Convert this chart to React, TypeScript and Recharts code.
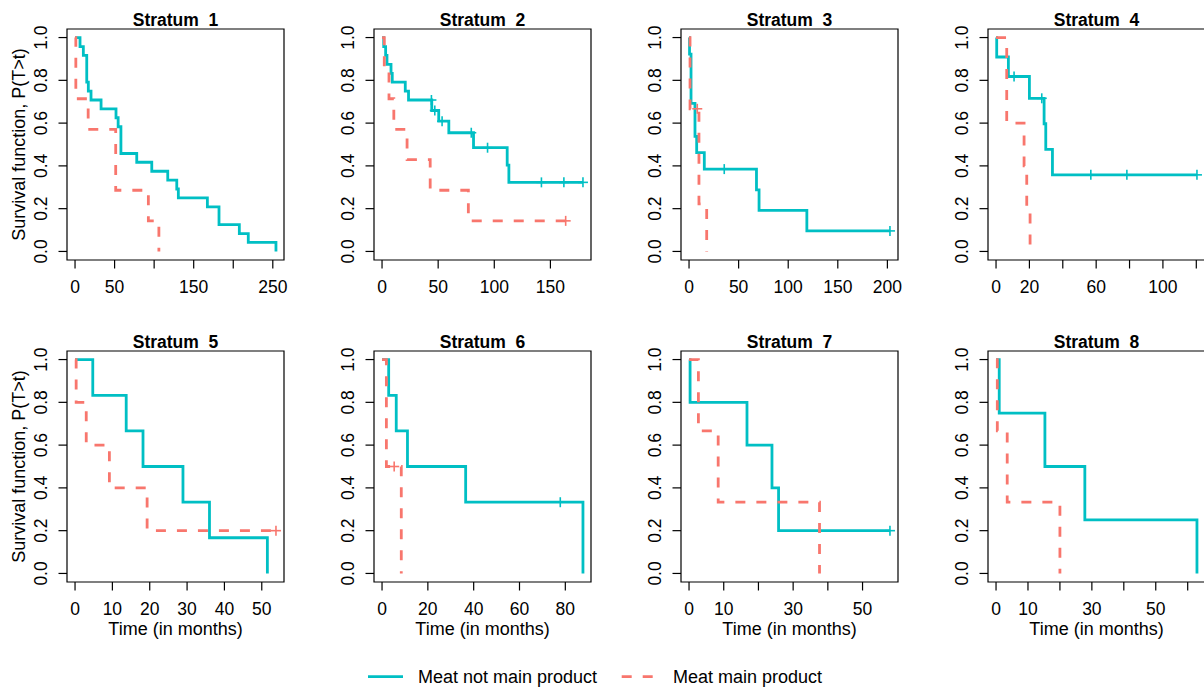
import React from 'react';
import { LineChart, Line, XAxis, YAxis, ReferenceArea } from 'recharts';

const TEAL = '#00BFC4';
const SALMON = '#F8766D';
const FONT = '"Liberation Sans", Arial, Helvetica, sans-serif';

// ---------- data ----------
const strataTitles = ['Stratum  1', 'Stratum  2', 'Stratum  3', 'Stratum  4', 'Stratum  5', 'Stratum  6', 'Stratum  7', 'Stratum  8'];
const seriesNames = ['Meat not main product', 'Meat main product'];
const yTicks = [0, 0.2, 0.4, 0.6, 0.8, 1.0];
const yTickLabels = ['0.0', '0.2', '0.4', '0.6', '0.8', '1.0'];
const xAxisTitle = 'Time (in months)';
const yAxisTitle = 'Survival function, P(T>t)';

// Stratum 1
const s1NotMainT = [0, 6.3, 10.5, 14.8, 16.8, 20.2, 32.9, 51.8, 54.5, 58, 78, 97, 117.2, 128.6, 130.6, 167.3, 182, 207.7, 219, 254];
const s1NotMainS = [1, 0.958, 0.917, 0.792, 0.75, 0.708, 0.667, 0.625, 0.583, 0.458, 0.417, 0.375, 0.333, 0.292, 0.25, 0.208, 0.125, 0.083, 0.042, 0];
const s1NotMainC: number[] = [];
const s1MainT = [0, 1, 16.6, 51.4, 92.7, 106];
const s1MainS = [1, 0.714, 0.571, 0.286, 0.143, 0];
const s1MainC: number[] = [];
const s1Ticks = [0, 50, 100, 150, 200, 250];
const s1Labels = ['0', '50', '150', '250'];

// Stratum 2
const s2NotMainT = [0, 1.5, 3.2, 4.4, 8, 9.1, 20.7, 23.6, 44.3, 50.5, 59.5, 81.5, 111.5, 113];
const s2NotMainS = [1, 0.958, 0.917, 0.875, 0.833, 0.792, 0.75, 0.708, 0.659, 0.609, 0.555, 0.485, 0.404, 0.323];
const s2NotMainC = [44, 47, 53.5, 79.5, 94, 142, 162, 179];
const s2MainT = [0, 2, 6.2, 10.5, 22.3, 42.9, 76.9];
const s2MainS = [1, 0.857, 0.714, 0.571, 0.429, 0.286, 0.143];
const s2MainC = [163.6];
const s2Ticks = [0, 50, 100, 150];
const s2Labels = ['0', '50', '100', '150'];

// Stratum 3
const s3NotMainT = [0, 0.5, 2, 6, 7.7, 15.4, 68, 70.6, 118.8];
const s3NotMainS = [1, 0.923, 0.692, 0.538, 0.462, 0.385, 0.288, 0.192, 0.096];
const s3NotMainC = [35.5, 202.6];
const s3MainT = [0, 1, 10, 17.8];
const s3MainS = [1, 0.667, 0.222, 0];
const s3MainC = [8.3];
const s3Ticks = [0, 50, 100, 150, 200];
const s3Labels = ['0', '50', '100', '150', '200'];

// Stratum 4
const s4NotMainT = [0, 0.4, 7.4, 20, 28.8, 29.8, 33.8];
const s4NotMainS = [1, 0.909, 0.818, 0.716, 0.597, 0.477, 0.358];
const s4NotMainC = [10.8, 27.4, 56.8, 78.4, 120.4];
const s4MainT = [0, 6.4, 16.8, 18.4, 20.4];
const s4MainS = [1, 0.6, 0.4, 0.2, 0];
const s4MainC: number[] = [];
const s4Ticks = [0, 20, 40, 60, 80, 100, 120];
const s4Labels = ['0', '20', '60', '100'];

// Stratum 5
const s5NotMainT = [0, 4.75, 13.7, 18.2, 28.9, 36, 51.5];
const s5NotMainS = [1, 0.833, 0.667, 0.5, 0.333, 0.167, 0];
const s5NotMainC: number[] = [];
const s5MainT = [0, 0.3, 3, 9.2, 19.3];
const s5MainS = [1, 0.8, 0.6, 0.4, 0.2];
const s5MainC = [53.8];
const s5Ticks = [0, 10, 20, 30, 40, 50];
const s5Labels = ['0', '10', '20', '30', '40', '50'];

// Stratum 6
const s6NotMainT = [0, 2.9, 6.2, 11.1, 36.5, 87.7];
const s6NotMainS = [1, 0.833, 0.667, 0.5, 0.333, 0];
const s6NotMainC = [77.8];
const s6MainT = [0, 1.9, 8.4];
const s6MainS = [1, 0.5, 0];
const s6MainC = [5.3];
const s6Ticks = [0, 20, 40, 60, 80];
const s6Labels = ['0', '20', '40', '60', '80'];

// Stratum 7
const s7NotMainT = [0, 0.3, 16.7, 23.9, 25.8];
const s7NotMainS = [1, 0.8, 0.6, 0.4, 0.2];
const s7NotMainC = [57.9];
const s7MainT = [0, 2.7, 8.4, 37.6];
const s7MainS = [1, 0.667, 0.333, 0];
const s7MainC: number[] = [];
const s7Ticks = [0, 10, 20, 30, 40, 50];
const s7Labels = ['0', '10', '30', '50'];

// Stratum 8
const s8NotMainT = [0, 1, 15.3, 27.8, 62.9];
const s8NotMainS = [1, 0.75, 0.5, 0.25, 0];
const s8NotMainC: number[] = [];
const s8MainT = [0, 0.4, 3.5, 20];
const s8MainS = [1, 0.667, 0.333, 0];
const s8MainC: number[] = [];
const s8Ticks = [0, 10, 20, 30, 40, 50, 60];
const s8Labels = ['0', '10', '30', '50'];

// ---------- helpers ----------
type Pt = { t: number; s: number; c: boolean };

function buildSeries(times: number[], surv: number[], cens: number[]): Pt[] {
  const pts: Pt[] = times.map((t, i) => ({ t, s: surv[i], c: false }));
  cens.forEach((tc) => {
    let s = 1;
    for (let i = 0; i < times.length; i++) if (times[i] <= tc) s = surv[i];
    pts.push({ t: tc, s, c: true });
  });
  pts.sort((a, b) => a.t - b.t);
  return pts;
}

const panels = [
  { title: strataTitles[0], nm: buildSeries(s1NotMainT, s1NotMainS, s1NotMainC), m: buildSeries(s1MainT, s1MainS, s1MainC), ticks: s1Ticks, labels: s1Labels },
  { title: strataTitles[1], nm: buildSeries(s2NotMainT, s2NotMainS, s2NotMainC), m: buildSeries(s2MainT, s2MainS, s2MainC), ticks: s2Ticks, labels: s2Labels },
  { title: strataTitles[2], nm: buildSeries(s3NotMainT, s3NotMainS, s3NotMainC), m: buildSeries(s3MainT, s3MainS, s3MainC), ticks: s3Ticks, labels: s3Labels },
  { title: strataTitles[3], nm: buildSeries(s4NotMainT, s4NotMainS, s4NotMainC), m: buildSeries(s4MainT, s4MainS, s4MainC), ticks: s4Ticks, labels: s4Labels },
  { title: strataTitles[4], nm: buildSeries(s5NotMainT, s5NotMainS, s5NotMainC), m: buildSeries(s5MainT, s5MainS, s5MainC), ticks: s5Ticks, labels: s5Labels },
  { title: strataTitles[5], nm: buildSeries(s6NotMainT, s6NotMainS, s6NotMainC), m: buildSeries(s6MainT, s6MainS, s6MainC), ticks: s6Ticks, labels: s6Labels },
  { title: strataTitles[6], nm: buildSeries(s7NotMainT, s7NotMainS, s7NotMainC), m: buildSeries(s7MainT, s7MainS, s7MainC), ticks: s7Ticks, labels: s7Labels },
  { title: strataTitles[7], nm: buildSeries(s8NotMainT, s8NotMainS, s8NotMainC), m: buildSeries(s8MainT, s8MainS, s8MainC), ticks: s8Ticks, labels: s8Labels },
];

const TICK_FS = 17.5;
const TITLE_FS = 17.5;
const LAB_FS = 18;
const PW = 307;
const PH = 322;
const MARGIN = { top: 29, right: 23, bottom: 22, left: 7 };
const YW = 60;
const XH = 40;
const BOX = { x: MARGIN.left + YW, y: MARGIN.top, w: PW - MARGIN.left - YW - MARGIN.right, h: PH - MARGIN.top - MARGIN.bottom - XH };

const makePlus = (color: string) => (props: any) => {
  const { cx, cy, payload, index } = props;
  if (!payload || !payload.c || cx == null || cy == null) return <g key={'d' + index} />;
  const a = 5;
  return (
    <g key={'d' + index}>
      <line x1={cx - a} x2={cx + a} y1={cy} y2={cy} stroke={color} strokeWidth={1.6} />
      <line x1={cx} x2={cx} y1={cy - a} y2={cy + a} stroke={color} strokeWidth={1.6} />
    </g>
  );
};

const XTick = (labels: string[]) => (props: any) => {
  const { x, y, payload } = props;
  const txt = String(payload.value);
  if (!labels.includes(txt)) return <g />;
  return (
    <text x={x} y={y + 24} textAnchor="middle" fontFamily={FONT} fontSize={TICK_FS} fill="#000">
      {txt}
    </text>
  );
};

const YTick = (props: any) => {
  const { x, y, payload } = props;
  const idx = yTicks.findIndex((v) => Math.abs(v - payload.value) < 1e-9);
  const txt = idx >= 0 ? yTickLabels[idx] : String(payload.value);
  const bx = x - 11.5;
  return (
    <text x={bx} y={y} transform={`rotate(-90 ${bx} ${y})`} textAnchor="middle" fontFamily={FONT} fontSize={TICK_FS} fill="#000">
      {txt}
    </text>
  );
};

function KMPanel({ p, col, row }: { p: (typeof panels)[number]; col: number; row: number }) {
  const maxT = Math.max(...p.nm.map((d) => d.t), ...p.m.map((d) => d.t));
  const lo = -0.04 * maxT;
  const hi = 1.04 * maxT;
  const titleLabel = (props: any) => {
    const vb = props && props.viewBox && props.viewBox.width != null ? props.viewBox : { x: BOX.x, y: BOX.y, width: BOX.w, height: BOX.h };
    return (
      <text x={vb.x + vb.width / 2} y={vb.y - 3} textAnchor="middle" fontFamily={FONT} fontSize={TITLE_FS} fontWeight="bold" fill="#000" style={{ whiteSpace: 'pre' }}>
        {p.title}
      </text>
    );
  };
  const xTitle = (props: any) => {
    const vb = props && props.viewBox && props.viewBox.width != null ? props.viewBox : { x: BOX.x, y: BOX.y + BOX.h, width: BOX.w, height: XH };
    return (
      <text x={vb.x + vb.width / 2} y={vb.y + 52.5} textAnchor="middle" fontFamily={FONT} fontSize={LAB_FS} fill="#000">
        {xAxisTitle}
      </text>
    );
  };
  const yTitle = (props: any) => {
    const vb = props && props.viewBox && props.viewBox.height != null ? props.viewBox : { x: MARGIN.left, y: BOX.y, width: YW, height: BOX.h };
    const cx = vb.x + 17.5;
    const cy = vb.y + vb.height / 2;
    return (
      <text x={cx} y={cy} transform={`rotate(-90 ${cx} ${cy})`} textAnchor="middle" fontFamily={FONT} fontSize={LAB_FS} fill="#000">
        {yAxisTitle}
      </text>
    );
  };
  return (
    <div style={{ position: 'absolute', left: col * PW, top: row * PH, width: PW, height: PH }}>
      <LineChart width={PW} height={PH} margin={MARGIN}>
        <XAxis
          type="number"
          dataKey="t"
          domain={[lo, hi]}
          allowDataOverflow
          ticks={p.ticks}
          interval={0}
          tickSize={8.5}
          tickMargin={0}
          axisLine={false}
          tickLine={{ stroke: '#000', strokeWidth: 1.2 }}
          tick={XTick(p.labels)}
          height={XH}
          label={row === 1 ? xTitle : undefined}
        />
        <YAxis
          type="number"
          domain={[-0.04, 1.04]}
          allowDataOverflow
          ticks={yTicks}
          interval={0}
          tickSize={8.5}
          tickMargin={0}
          axisLine={false}
          tickLine={{ stroke: '#000', strokeWidth: 1.2 }}
          tick={YTick}
          width={YW}
          label={col === 0 ? yTitle : undefined}
        />
        <ReferenceArea x1={lo} x2={hi} y1={-0.04} y2={1.04} fill="none" fillOpacity={0} stroke="#000" strokeWidth={1.2} ifOverflow="visible" label={titleLabel} />
        <Line data={p.nm} dataKey="s" type="stepAfter" stroke={TEAL} strokeWidth={2.8} dot={makePlus(TEAL)} activeDot={false} isAnimationActive={false} />
        <Line data={p.m} dataKey="s" type="stepAfter" stroke={SALMON} strokeWidth={2.8} strokeDasharray="10 11" dot={makePlus(SALMON)} activeDot={false} isAnimationActive={false} />
      </LineChart>
    </div>
  );
}

function LegendBox() {
  return (
    <svg style={{ position: 'absolute', left: 0, top: 650 }} width={1204} height={40}>
      <line x1={368} x2={403} y1={26.7} y2={26.7} stroke={TEAL} strokeWidth={2.8} />
      <text x={418} y={33} fontFamily={FONT} fontSize={LAB_FS} fill="#000">{seriesNames[0]}</text>
      <line x1={621.7} x2={653} y1={26.7} y2={26.7} stroke={SALMON} strokeWidth={2.8} strokeDasharray="10 11" />
      <text x={673} y={33} fontFamily={FONT} fontSize={LAB_FS} fill="#000">{seriesNames[1]}</text>
    </svg>
  );
}

export default function App() {
  return (
    <div style={{ position: 'absolute', left: 0, top: 0, width: 1204, height: 690, overflow: 'hidden', background: '#fff' }}>
      {panels.map((p, i) => (
        <KMPanel key={i} p={p} col={i % 4} row={Math.floor(i / 4)} />
      ))}
      <LegendBox />
    </div>
  );
}
